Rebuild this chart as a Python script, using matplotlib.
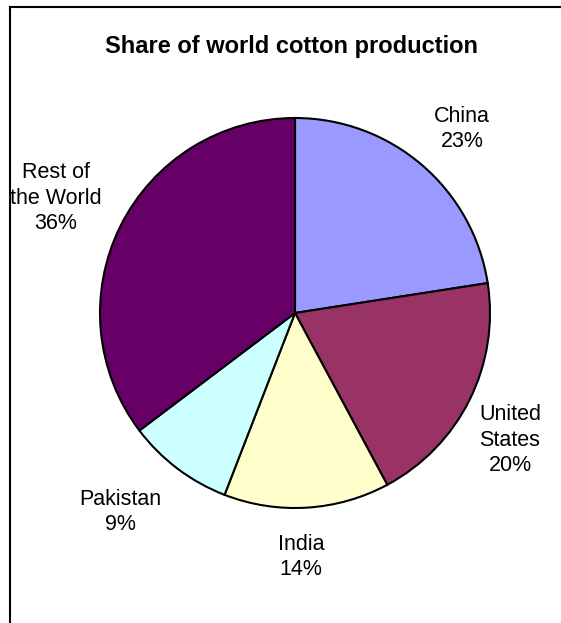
import matplotlib
matplotlib.use("Agg")
import matplotlib.pyplot as plt
from matplotlib.lines import Line2D

plt.rcParams['font.family'] = ['Liberation Sans', 'DejaVu Sans']

# data
countries = ['China', 'United\nStates', 'India', 'Pakistan', 'Rest of\nthe World']
shares = [23, 20, 14, 9, 36]
colors = ['#9999FF', '#993366', '#FFFFCC', '#CCFFFF', '#660066']

W, H = 561, 623
fig = plt.figure(figsize=(W / 100, H / 100), dpi=100)

# pie centre / radius in pixels (from top-left)
cx, cy, r = 295, 313, 195
ax = fig.add_axes([(cx - r) / W, (H - cy - r) / H, 2 * r / W, 2 * r / H])
ax.pie(shares, colors=colors, startangle=90, counterclock=False, radius=1,
       wedgeprops=dict(edgecolor='black', linewidth=1.5))
ax.set_xlim(-1, 1)
ax.set_ylim(-1, 1)
ax.axis('off')

# label block centres in pixels
label_pos = [(462, 129), (510, 440), (301, 557), (120, 512), (56, 198)]
for name, val, (px, py) in zip(countries, shares, label_pos):
    fig.text(px / W, 1 - py / H, f"{name}\n{val}%", ha='center', va='center',
             fontsize=15.5, linespacing=1.28)

fig.text(291.5 / W, 1 - 46 / H, 'Share of world cotton production',
         ha='center', va='center', fontsize=17, fontweight='bold')

# chart area border (only left and top visible)
fig.add_artist(Line2D([9.5 / W, 9.5 / W], [0, 1 - 6.5 / H], color='black', lw=1.5,
                      transform=fig.transFigure))
fig.add_artist(Line2D([9.5 / W, 1], [1 - 6.5 / H, 1 - 6.5 / H], color='black', lw=1.5,
                      transform=fig.transFigure))

fig.savefig('out.png', dpi=100)
